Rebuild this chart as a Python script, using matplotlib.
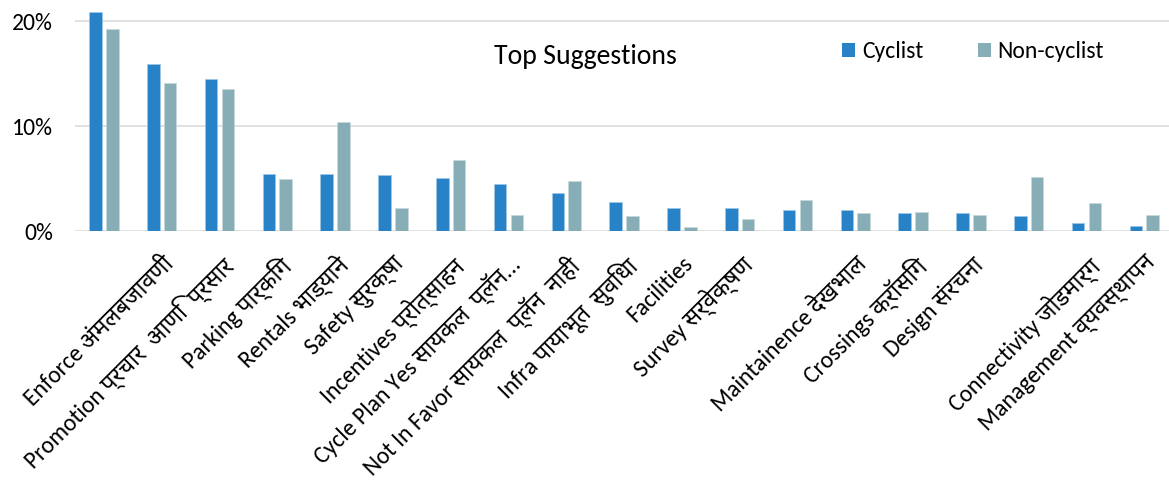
import matplotlib
matplotlib.use("Agg")
import matplotlib.pyplot as plt
import numpy as np
from matplotlib.patches import Patch

plt.rcParams['font.family'] = ['Carlito', 'Noto Sans Devanagari', 'DejaVu Sans']

categories = [
    "",
    "Enforce अंमलबजावणी",
    "Promotion प्रचार  आणि  प्रसार",
    "Parking पार्किंग",
    "Rentals भाड्याने",
    "Safety सुरक्षा",
    "Incentives प्रोत्साहन",
    "Cycle Plan Yes सायकल  प्लॅन...",
    "Not In Favor सायकल  प्लॅन  नाही",
    "Infra पायाभूत  सुविधा",
    "Facilities",
    "Survey सर्वेक्षण",
    "",
    "Maintainence देखभाल",
    "Crossings क्रॉसिंग",
    "Design संरचना",
    "",
    "Connectivity जोडमार्ग",
    "Management व्यवस्थापन",
]
cyclist = [20.9, 15.9, 14.5, 5.5, 5.5, 5.35, 5.05, 4.5, 3.65, 2.75, 2.2, 2.2,
           2.05, 2.05, 1.75, 1.75, 1.5, 0.8, 0.5]
non_cyclist = [19.3, 14.1, 13.6, 5.0, 10.4, 2.2, 6.75, 1.6, 4.8, 1.45, 0.45, 1.2,
               2.95, 1.75, 1.85, 1.6, 5.15, 2.7, 1.6]
series_names = ["Cyclist", "Non-cyclist"]
colors = ["#2882C8", "#87ADB6"]
yticks = [0, 10, 20]
ytick_labels = ["0%", "10%", "20%"]
title = "Top Suggestions"

W, H = 1169, 491
fig = plt.figure(figsize=(W / 100, H / 100), dpi=100)
n = len(categories)
unit = 57.8
left_px, bottom_px, top_px = 75, 231.3, 0.3
ax = fig.add_axes([left_px / W, 1 - bottom_px / H, n * unit / W, (bottom_px - top_px) / H])

x = np.arange(n)
bw = 0.22
off = 0.145
ax.bar(x - off, np.array(cyclist) / 100, bw, color=colors[0], edgecolor="#9CC6E8",
       linewidth=0.5, zorder=3)
ax.bar(x + off, np.array(non_cyclist) / 100, bw, color=colors[1], edgecolor="#C6D8DC",
       linewidth=0.5, zorder=3)

ax.set_xlim(-0.5, n - 0.5)
ax.set_ylim(0, 0.22)
ax.set_yticks(np.array(yticks) / 100)
ax.set_yticklabels(ytick_labels, fontsize=17)
ax.yaxis.grid(True, color="#D9D9D9", linewidth=1.1, zorder=0)
ax.set_axisbelow(True)
for s in ax.spines.values():
    s.set_visible(False)
ax.tick_params(axis='y', length=0, pad=16)
ax.tick_params(axis='x', length=0, pad=15)
ax.set_xticks(x)
ax.set_xticklabels(categories, rotation=45, ha='right', rotation_mode='anchor', fontsize=17)

fig.text(585 / W, 1 - 64 / H, title, ha='center', va='baseline', fontsize=20)

handles = [Patch(facecolor=c, edgecolor='none') for c in colors]
fig.legend(handles, series_names, ncol=2, loc='center left',
           bbox_to_anchor=(842 / W, 1 - 52 / H), frameon=False, fontsize=17,
           handlelength=0.55, handleheight=0.55, handletextpad=0.3,
           columnspacing=2.3, borderpad=0, borderaxespad=0)

fig.savefig("out.png", dpi=100)
